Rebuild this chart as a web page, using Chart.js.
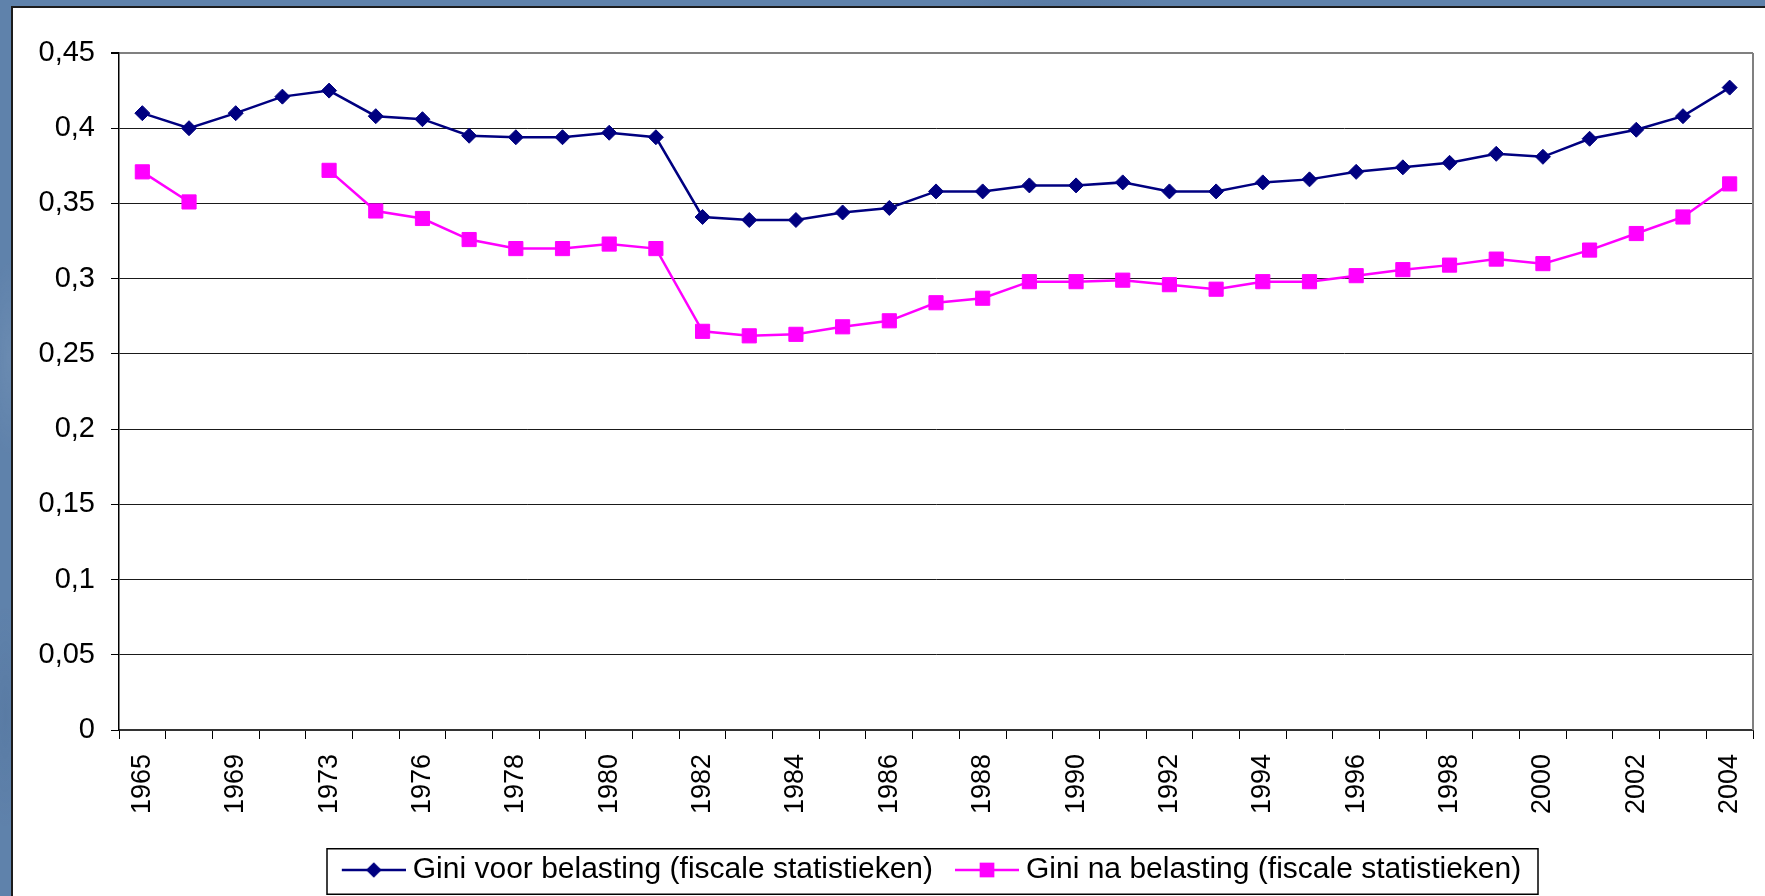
<!DOCTYPE html>
<html>
<head>
<meta charset="utf-8">
<script src="https://cdn.jsdelivr.net/npm/chart.js@4.4.1/dist/chart.umd.min.js"></script>
<style>
html, body { margin: 0; padding: 0; width: 1765px; height: 896px; overflow: hidden; }
body {
  background-color: #5f82ab;
  background-image:
    radial-gradient(ellipse 120px 40px at 15% 20%, rgba(255,255,255,0.08), transparent 70%),
    radial-gradient(ellipse 160px 50px at 60% 2%, rgba(20,40,80,0.10), transparent 70%),
    radial-gradient(ellipse 30px 140px at 0.5% 40%, rgba(255,255,255,0.07), transparent 70%),
    radial-gradient(ellipse 30px 160px at 0.3% 80%, rgba(20,40,80,0.08), transparent 70%);
}
#panel { position: absolute; left: 11px; top: 6px; width: 1800px; height: 950px; background: #fff; border: 2px solid #1c1c1c; box-sizing: border-box; }
#c { position: absolute; left: 0; top: 0; }
</style>
</head>
<body>
<div id="panel"></div>
<canvas id="c" width="1765" height="896"></canvas>
<script>
const years = ['1965','1967','1969','1971','1973','1975','1976','1977','1978','1979','1980','1981','1982','1983','1984','1985','1986','1987','1988','1989','1990','1991','1992','1993','1994','1995','1996','1997','1998','1999','2000','2001','2002','2003','2004'];
const giniVoor = [0.410,0.400,0.410,0.421,0.425,0.408,0.406,0.395,0.394,0.394,0.397,0.394,0.341,0.339,0.339,0.344,0.347,0.358,0.358,0.362,0.362,0.364,0.358,0.358,0.364,0.366,0.371,0.374,0.377,0.383,0.381,0.393,0.399,0.408,0.427];
const giniNa = [0.371,0.351,null,null,0.372,0.345,0.340,0.326,0.320,0.320,0.323,0.320,0.265,0.262,0.263,0.268,0.272,0.284,0.287,0.298,0.298,0.299,0.296,0.293,0.298,0.298,0.302,0.306,0.309,0.313,0.310,0.319,0.330,0.341,0.363];
const seriesNames = ['Gini voor belasting (fiscale statistieken)', 'Gini na belasting (fiscale statistieken)'];
const seriesColors = ['#000080', '#FF00FF'];
const yMin = 0, yMax = 0.45, yStep = 0.05;

const FONT = 'Liberation Sans, Arial, sans-serif';
const P_W = 71; // legend symbol slot width

function legendSymbol(color, kind) {
  const c = document.createElement('canvas');
  c.width = P_W + 16; c.height = 22;
  const g = c.getContext('2d');
  const cy = 11, x1 = c.width - 64, x2 = c.width, cx = (x1 + x2) / 2;
  g.strokeStyle = color; g.lineWidth = 2.5;
  g.beginPath(); g.moveTo(x1, cy); g.lineTo(x2, cy); g.stroke();
  g.fillStyle = color;
  if (kind === 'diamond') {
    const r = 7.8;
    g.beginPath(); g.moveTo(cx, cy - r); g.lineTo(cx + r, cy); g.lineTo(cx, cy + r); g.lineTo(cx - r, cy); g.closePath(); g.fill();
  } else {
    const s = 14.7;
    g.fillRect(cx - s / 2, cy - s / 2, s, s);
  }
  return c;
}
const legendImgs = [legendSymbol(seriesColors[0], 'diamond'), legendSymbol(seriesColors[1], 'square')];

const frames = {
  id: 'frames',
  afterLayout(chart) {
    const lg = chart.legend, ca = chart.chartArea;
    lg._boxL = ca.left + 208;
    lg._boxR = ca.right - 215;
    lg.left = lg._boxL - 17;
    lg.right = lg._boxR;
  },
  beforeDatasetsDraw(chart) {
    const ctx = chart.ctx, ca = chart.chartArea;
    ctx.save();
    ctx.strokeStyle = '#808080'; ctx.lineWidth = 2;
    ctx.beginPath(); ctx.moveTo(ca.right, ca.top); ctx.lineTo(ca.right, ca.bottom); ctx.stroke();
    ctx.restore();
  },
  afterDraw(chart) {
    const ctx = chart.ctx, lg = chart.legend;
    ctx.save();
    ctx.strokeStyle = '#000'; ctx.lineWidth = 1.5;
    ctx.strokeRect(lg._boxL, lg.top + 0.75, lg._boxR - lg._boxL, lg.bottom - lg.top - 1.5);
    ctx.restore();
  }
};

new Chart(document.getElementById('c'), {
  type: 'line',
  data: {
    labels: years,
    datasets: [
      { label: seriesNames[0], data: giniVoor, borderColor: seriesColors[0], backgroundColor: seriesColors[0],
        borderWidth: 2.5, pointStyle: 'rectRot', pointRadius: 7.5, pointBorderWidth: 1, pointBorderColor: seriesColors[0], tension: 0 },
      { label: seriesNames[1], data: giniNa, borderColor: seriesColors[1], backgroundColor: seriesColors[1],
        borderWidth: 2.5, pointStyle: 'rect', pointRadius: 10, pointBorderWidth: 1, pointBorderColor: seriesColors[1], tension: 0, spanGaps: false }
    ]
  },
  options: {
    responsive: false,
    animation: false,
    devicePixelRatio: 1,
    events: [],
    layout: { padding: { left: 0, top: 53, right: 12, bottom: 1 } },
    scales: {
      x: {
        type: 'category',
        offset: true,
        grid: { display: true, drawOnChartArea: false, drawTicks: true, tickLength: 9, offset: true, color: '#000', lineWidth: 1 },
        border: { display: true, color: '#333', width: 2 },
        ticks: {
          autoSkip: false, maxRotation: 90, minRotation: 90, padding: 15, color: '#000',
          font: { family: FONT, size: 27 },
          callback: (v, i) => (i % 2 === 0 ? years[i] : '')
        },
        afterFit(s) { s.height = 118; s.paddingLeft = 0; s.paddingRight = 0; }
      },
      y: {
        min: yMin, max: yMax,
        grid: { color: (c) => (c.tick && c.tick.value > yMax - 1e-6 ? '#808080' : '#1a1a1a'), tickColor: '#000', lineWidth: (c) => (c.tick && c.tick.value > yMax - 1e-6 ? 2 : 1), tickLength: 8 },
        border: { display: true, color: '#000', width: 1.5 },
        ticks: {
          stepSize: yStep, padding: 16, color: '#000',
          font: { family: FONT, size: 29 },
          callback: (v) => String(parseFloat(Number(v).toFixed(2))).replace('.', ',')
        },
        afterFit(s) { s.width = 119; s.paddingTop = 0; s.paddingBottom = 0; }
      }
    },
    plugins: {
      tooltip: { enabled: false },
      legend: {
        position: 'bottom',
        align: 'center',
        labels: {
          usePointStyle: true,
          pointStyleWidth: P_W,
          padding: 7,
          color: '#000',
          font: { family: FONT, size: 30 },
          generateLabels(chart) {
            const items = Chart.defaults.plugins.legend.labels.generateLabels(chart);
            return items.map((it, i) => Object.assign(it, { pointStyle: legendImgs[i] }));
          }
        }
      }
    }
  },
  plugins: [frames]
});
</script>
</body>
</html>
